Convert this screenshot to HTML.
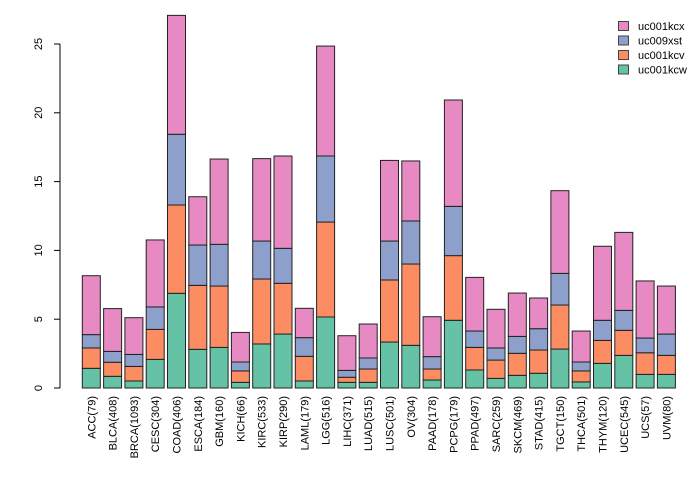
<!DOCTYPE html>
<html><head><meta charset="utf-8"><style>
body{margin:0;background:#fff;}
svg{display:block;font-family:"Liberation Sans",sans-serif;}
</style></head><body>
<svg id="chart" width="700" height="480"></svg>
<script>
const categories=["ACC(79)","BLCA(408)","BRCA(1093)","CESC(304)","COAD(406)","ESCA(184)","GBM(160)","KICH(66)","KIRC(533)","KIRP(290)","LAML(179)","LGG(516)","LIHC(371)","LUAD(515)","LUSC(501)","OV(304)","PAAD(178)","PCPG(179)","PPAD(497)","SARC(259)","SKCM(469)","STAD(415)","TGCT(150)","THCA(501)","THYM(120)","UCEC(545)","UCS(57)","UVM(80)"];
const uc001kcw=[1.43,0.85,0.51,2.08,6.88,2.81,2.95,0.41,3.2,3.92,0.51,5.16,0.41,0.41,3.34,3.1,0.58,4.92,1.31,0.7,0.92,1.07,2.83,0.44,1.79,2.37,0.99,0.99];
const uc001kcv=[1.48,1.02,1.06,2.18,6.42,4.65,4.46,0.83,4.72,3.69,1.79,6.9,0.37,0.97,4.51,5.91,0.8,4.7,1.64,1.33,1.6,1.69,3.2,0.8,1.67,1.82,1.57,1.38];
const uc009xst=[0.97,0.79,0.87,1.63,5.14,2.93,3.03,0.65,2.76,2.54,1.36,4.8,0.5,0.8,2.83,3.13,0.9,3.58,1.19,0.88,1.23,1.55,2.3,0.65,1.46,1.45,1.07,1.55];
const uc001kcx=[4.28,3.11,2.67,4.87,8.64,3.51,6.2,2.15,5.99,6.71,2.13,7.99,2.52,2.47,5.86,4.36,2.9,7.73,3.9,2.81,3.15,2.23,6.01,2.25,5.38,5.67,4.15,3.49];
const yTicks=[0,5,10,15,20,25];
const seriesNames=["uc001kcw","uc001kcv","uc009xst","uc001kcx"];
const seriesVals=[uc001kcw,uc001kcv,uc009xst,uc001kcx];
const colors=["#66c2a5","#fc8d62","#8da0cb","#e78ac3"];
const NS="http://www.w3.org/2000/svg";
const svg=document.getElementById("chart");
const y=v=>388-v*13.76;
const xL=i=>82.3+i*21.3;
const bw=18;
function mk(t,a){const e=document.createElementNS(NS,t);for(const k in a)e.setAttribute(k,a[k]);svg.appendChild(e);return e;}
// axis
const ax=mk("line",{x1:60,x2:60,y1:y(0),y2:y(25),stroke:"#000"});


yTicks.forEach(t=>{
  const l=mk("line",{x1:54,x2:60,y1:y(t),y2:y(t),stroke:"#000"});
  
  
  const tx=mk("text",{x:0,y:0,"font-size":11,"text-anchor":"middle",transform:`translate(42,${y(t)}) rotate(-90)`});
  tx.textContent=t;
  
  
});
categories.forEach((c,i)=>{
  let cum=0;
  seriesVals.forEach((s,j)=>{
    const v=s[i];
    const r=mk("rect",{x:xL(i),y:y(cum+v),width:bw,height:v*13.76,fill:colors[j],stroke:"#222","stroke-width":1});
    
    
    cum+=v;
  });
  const tx=mk("text",{x:0,y:0,"font-size":11,"text-anchor":"end",transform:`translate(${xL(i)+bw/2+4},396) rotate(-90)`});
  tx.textContent=c;
  
  
});
const legOrder=[3,2,1,0];
legOrder.forEach((j,k)=>{
  const yy=26+k*14.5;
  const r=mk("rect",{x:618.5,y:yy-4.5,width:10,height:9,fill:colors[j],stroke:"#444"});
  
  
  const t=mk("text",{x:638,y:yy+4,"font-size":11});
  t.textContent=seriesNames[j];
  
  
});
</script>
</body></html>
